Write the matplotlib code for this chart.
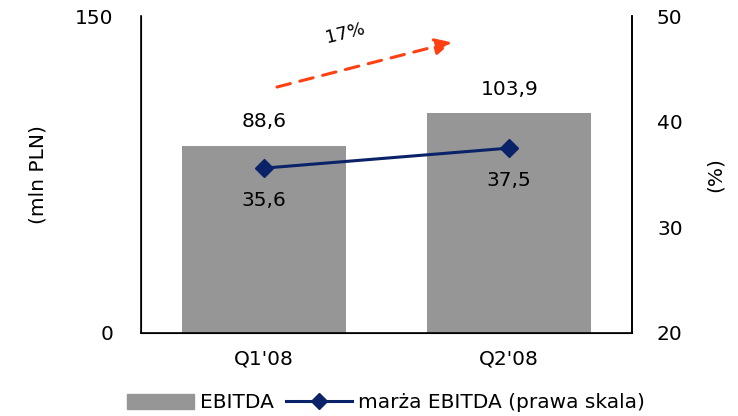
import matplotlib
matplotlib.use("Agg")
import matplotlib.pyplot as plt
from matplotlib.lines import Line2D
from matplotlib.patches import Patch

categories = ["Q1'08", "Q2'08"]
ebitda = [88.6, 103.9]
margin = [35.6, 37.5]
ebitda_labels = ["88,6", "103,9"]
margin_labels = ["35,6", "37,5"]
growth_label = "17%"

plt.rcParams['font.family'] = ['DejaVu Sans']
FS = 14.5
fig = plt.figure(figsize=(7.38, 4.16), dpi=100)
ax = fig.add_axes([141/738, 1-333/416, 491/738, 317/416])
x = list(range(len(categories)))
bar_color = "#969696"
line_color = "#0a2268"

ax.bar(x, ebitda, width=0.67, color=bar_color, zorder=2)
ax.set_xlim(-0.5, 1.5)
ax.set_ylim(0, 150)
ax.set_yticks([0, 150])
ax.set_xticks(x)
ax.set_xticklabels(categories, fontsize=FS)
ax.tick_params(axis='x', length=0, labelsize=FS, pad=12)
ax.tick_params(axis='y', length=0, labelsize=FS, pad=20)
ax.spines['top'].set_visible(False)
for s in ['left', 'bottom', 'right']:
    ax.spines[s].set_linewidth(1.2)
ax.set_ylabel("(mln PLN)", fontsize=FS)
ax.yaxis.set_label_coords((47 - 141) / 491, 0.5)

ax2 = ax.twinx()
ax2.plot(x, margin, color=line_color, lw=2.2, marker='D', markersize=9, zorder=3)
ax2.set_ylim(20, 50)
ax2.set_yticks([20, 30, 40, 50])
ax2.tick_params(axis='y', length=0, labelsize=FS, pad=18)
ax2.spines['top'].set_visible(False)
ax2.spines['right'].set_linewidth(1.2)
ax2.set_ylabel("(%)", fontsize=FS)
ax2.yaxis.set_label_coords((706 - 141) / 491, 0.5)

for xi, v, lab in zip(x, ebitda, ebitda_labels):
    ax.text(xi, v + 7, lab, ha='center', va='bottom', fontsize=FS)
for xi, v, lab in zip(x, margin, margin_labels):
    ax2.text(xi, v - 2.2, lab, ha='center', va='top', fontsize=FS)

ax.annotate("", xy=(0.633, 0.917), xytext=(0.277, 0.776), xycoords='axes fraction',
            textcoords='axes fraction',
            arrowprops=dict(arrowstyle='-|>,head_length=1.0,head_width=0.5', color='#ff4013',
                            lw=2.2, linestyle=(0, (4.5, 3.2)), shrinkA=0, shrinkB=0))
ax.text(0.415, 0.945, growth_label, transform=ax.transAxes, rotation=14,
        ha='center', va='center', fontsize=13)

handles = [Patch(color=bar_color, label="EBITDA"),
           Line2D([0], [0], color=line_color, lw=2.2, marker='D', markersize=8,
                  label="marża EBITDA (prawa skala)")]
fig.legend(handles=handles, loc='center', bbox_to_anchor=(386/738, 1-403/416), ncol=2,
           frameon=False, fontsize=FS, handlelength=3.3, handleheight=0.8,
           columnspacing=0.6, handletextpad=0.3, borderaxespad=0)

fig.savefig("out.png", dpi=100)
